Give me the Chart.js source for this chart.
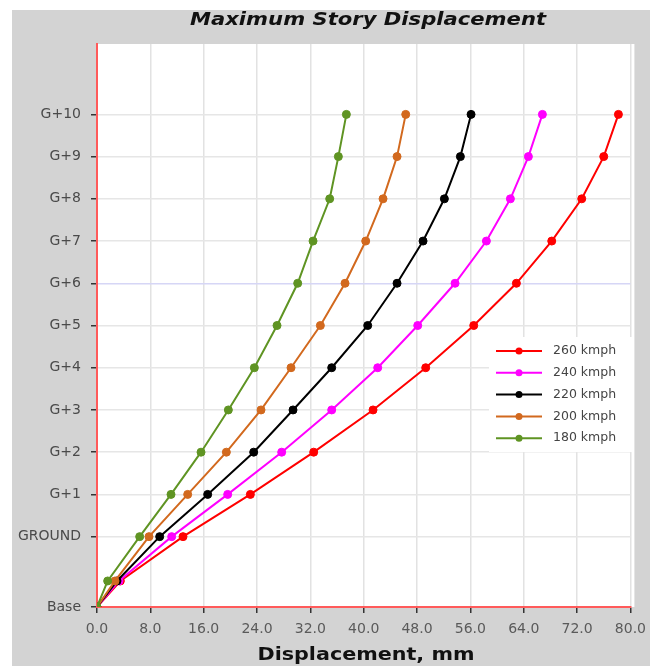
<!DOCTYPE html>
<html>
<head>
<meta charset="utf-8">
<script src="https://cdn.jsdelivr.net/npm/chart.js@4.4.0/dist/chart.umd.min.js"></script>
<style>
  body { margin: 0; background: #ffffff; }
  #wrap { width: 654px; height: 666px; }
</style>
</head>
<body>
<div id="wrap"><canvas id="grafico" width="654" height="666"></canvas></div>
<script>
// story levels (height units) and their labels
var levelHeights = [0, 1.85, 5, 8, 11, 14, 17, 20, 23, 26, 29, 32, 35];
var tickHeights = [0, 5, 8, 11, 14, 17, 20, 23, 26, 29, 32, 35];
var tickLabels = ['Base', 'GROUND', 'G+1', 'G+2', 'G+3', 'G+4', 'G+5', 'G+6', 'G+7', 'G+8', 'G+9', 'G+10'];

// max story displacement, mm
var disp260 = [0, 3.5, 12.9, 23.0, 32.5, 41.4, 49.3, 56.5, 62.9, 68.2, 72.7, 76.0, 78.2];
var disp240 = [0, 3.3, 11.2, 19.6, 27.7, 35.2, 42.1, 48.1, 53.7, 58.4, 62.0, 64.7, 66.8];
var disp220 = [0, 3.0, 9.4, 16.6, 23.5, 29.4, 35.2, 40.6, 45.0, 48.9, 52.1, 54.5, 56.1];
var disp200 = [0, 2.7, 7.8, 13.6, 19.4, 24.6, 29.1, 33.5, 37.2, 40.3, 42.9, 45.0, 46.3];
var disp180 = [0, 1.6, 6.4, 11.1, 15.6, 19.7, 23.6, 27.0, 30.1, 32.4, 34.9, 36.2, 37.4];

var seriesNames = ['260 kmph', '240 kmph', '220 kmph', '200 kmph', '180 kmph'];
var seriesData = [disp260, disp240, disp220, disp200, disp180];
var seriesColors = ['#ff0000', '#ff00ff', '#000000', '#d2691e', '#5f9423'];

var fuente = '"DejaVu Sans", Verdana, sans-serif';

function puntos(arr) {
    return arr.map(function (v, i) { return { x: v, y: levelHeights[i] }; });
}

var datasets = seriesNames.map(function (name, i) {
    return {
        label: name,
        data: puntos(seriesData[i]),
        borderColor: seriesColors[i],
        backgroundColor: seriesColors[i],
        borderWidth: 2,
        pointRadius: 4,
        pointBorderWidth: 1,
        tension: 0,
        order: seriesNames.length - i
    };
});

// texto estirado al ancho del original
function textoAncho(ctx, txt, font, cx, cy, ancho) {
    ctx.save();
    ctx.font = font;
    var w = ctx.measureText(txt).width;
    ctx.translate(cx, cy);
    ctx.scale(ancho / w, 1);
    ctx.textAlign = 'center';
    ctx.textBaseline = 'middle';
    ctx.fillText(txt, 0, 0);
    ctx.restore();
}

// background, titles and legend drawn by hand
var fondo = {
    id: 'fondo',
    beforeDraw: function (chart) {
        var ctx = chart.ctx, a = chart.chartArea;
        ctx.save();
        ctx.fillStyle = '#d3d3d3';
        ctx.fillRect(12, 10, 638, 656);
        ctx.fillStyle = '#ffffff';
        ctx.fillRect(a.left, a.top, a.right - a.left + 4, a.bottom - a.top);
        ctx.fillStyle = '#111111';
        textoAncho(ctx, 'Maximum Story Displacement', 'italic bold 18px ' + fuente, 368, 20, 356);
        textoAncho(ctx, 'Displacement, mm', 'bold 18px ' + fuente, 366, 655, 217);
        ctx.restore();
    },
    afterDatasetsDraw: function (chart) {
        var ctx = chart.ctx;
        ctx.save();
        ctx.fillStyle = '#ffffff';
        ctx.fillRect(489, 337, 143, 115);
        ctx.font = '12.5px ' + fuente;
        ctx.textAlign = 'left';
        ctx.textBaseline = 'middle';
        chart.data.datasets.forEach(function (ds, i) {
            var y = 351 + i * 21.8;
            ctx.strokeStyle = ds.borderColor;
            ctx.lineWidth = 2;
            ctx.beginPath();
            ctx.moveTo(496, y);
            ctx.lineTo(542, y);
            ctx.stroke();
            ctx.fillStyle = ds.borderColor;
            ctx.beginPath();
            ctx.arc(519, y, 3.5, 0, Math.PI * 2);
            ctx.fill();
            ctx.fillStyle = '#444444';
            ctx.fillText(ds.label, 553, y);
        });
        ctx.restore();
    },
    afterDraw: function (chart) {
        // el original esta recortado en los bordes
        var ctx = chart.ctx;
        ctx.save();
        ctx.fillStyle = '#ffffff';
        ctx.fillRect(0, 0, 12, 666);
        ctx.fillRect(650, 0, 4, 666);
        ctx.restore();
    }
};

const ctx = document.querySelector('#grafico').getContext('2d');
new Chart(ctx, {
    type: 'line',
    data: { datasets: datasets },
    plugins: [fondo],
    options: {
        responsive: false,
        animation: false,
        layout: { padding: { left: 12, right: 20, top: 44, bottom: 0 } },
        plugins: {
            legend: { display: false },
            title: { display: false },
            tooltip: { enabled: false }
        },
        scales: {
            x: {
                type: 'linear',
                min: 0,
                max: 80,
                ticks: {
                    stepSize: 8,
                    padding: 8,
                    color: '#5a5a5a',
                    font: { size: 14, family: fuente },
                    callback: function (v) { return v.toFixed(1); }
                },
                grid: { color: '#e2e2e2', tickColor: '#333333', tickLength: 6, lineWidth: 1.5 },
                border: { color: '#ff5a5a', width: 2 },
                afterFit: function (s) { s.height = 59; }
            },
            y: {
                type: 'linear',
                min: 0,
                max: 40,
                afterBuildTicks: function (s) {
                    s.ticks = tickHeights.map(function (v) { return { value: v }; });
                },
                ticks: {
                    padding: 10,
                    color: '#4a4a4a',
                    font: { size: 14, family: fuente },
                    callback: function (v) {
                        var k = tickHeights.indexOf(v);
                        return k >= 0 ? tickLabels[k] : '';
                    }
                },
                grid: {
                    color: function (c) { return c.tick && c.tick.value === 23 ? '#d6d6f6' : '#e6e6e6'; },
                    tickColor: '#333333',
                    tickLength: 6,
                    lineWidth: 1.5
                },
                border: { color: '#ff5a5a', width: 2 },
                afterFit: function (s) { s.width = 85; }
            }
        }
    }
});
</script>
</body>
</html>
